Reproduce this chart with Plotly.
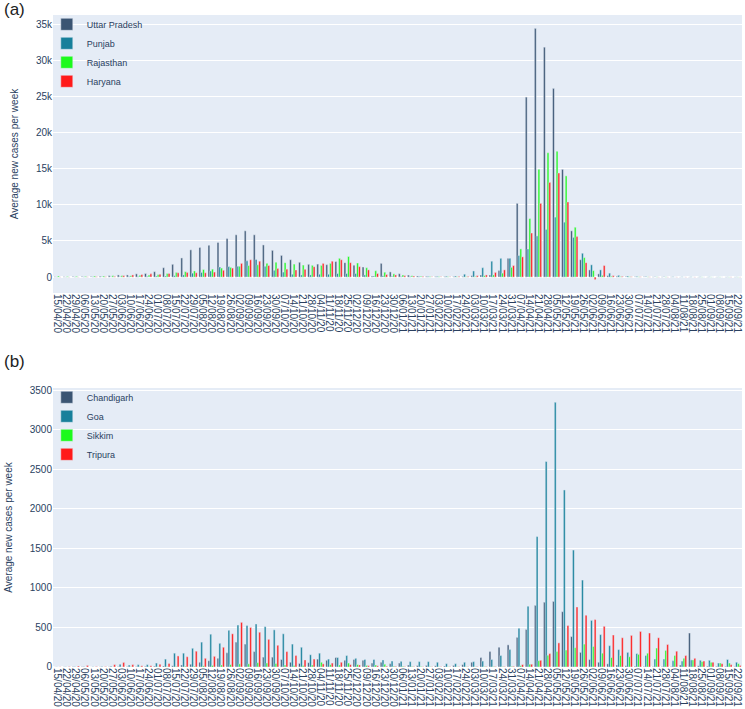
import plotly.graph_objects as go
import datetime as dt

start = dt.date(2020, 4, 15)
weeks = [(start + dt.timedelta(days=7 * i)).strftime("%d/%m/%y") for i in range(76)]

# ---- panel (a) values, in thousands ----
uttar_pradesh_k = [0.05, 0.05, 0.08, 0.1, 0.1, 0.12, 0.2, 0.3, 0.3, 0.45, 0.5, 0.75, 1.3, 1.77, 2.65, 3.77,
                   4.1, 4.4, 4.8, 5.35, 5.85, 6.4, 5.85, 4.45, 3.7, 3.0, 2.4, 2.05, 1.77, 1.8, 1.72, 2.15,
                   2.0, 1.65, 1.4, 0.15, 1.9, 0.72, 0.47, 0.28, 0.15, 0.1, 0.08, 0.07, 0.08, 0.1, 0.2, 0.3,
                   0.3, 0.9, 2.6, 10.2, 24.9, 34.4, 31.8, 26.1, 14.9, 6.4, 2.4, 1.0, 0.45, 0.2, 0.12, 0.08,
                   0.05, 0.04, 0.03, 0.03, 0.03, 0.02, 0.02, 0.02, 0.02, 0.02, 0.02, 0.02]
punjab_k = [0.03, 0.02, 0.03, 0.04, 0.05, 0.05, 0.05, 0.08, 0.1, 0.1, 0.12, 0.15, 0.15, 0.2, 0.3, 0.55,
            0.65, 0.85, 1.4, 1.45, 1.5, 2.25, 2.45, 1.5, 0.95, 0.7, 0.4, 0.3, 0.3, 0.4, 0.4, 0.5,
            0.5, 0.5, 0.3, 0.15, 0.2, 0.12, 0.1, 0.1, 0.1, 0.1, 0.1, 0.12, 0.15, 0.4, 0.85, 1.3,
            2.2, 2.6, 2.6, 3.0, 3.9, 5.7, 6.6, 8.3, 7.6, 5.5, 3.3, 1.7, 1.0, 0.55, 0.25, 0.15,
            0.1, 0.08, 0.06, 0.05, 0.05, 0.04, 0.04, 0.04, 0.04, 0.03, 0.03, 0.03]
rajasthan_k = [0.15, 0.08, 0.1, 0.1, 0.15, 0.15, 0.2, 0.2, 0.2, 0.25, 0.3, 0.35, 0.5, 0.65, 0.75, 0.85,
               1.05, 1.1, 1.25, 1.35, 1.5, 1.6, 1.7, 1.9, 2.05, 2.0, 1.8, 1.67, 1.63, 1.62, 1.9, 2.6,
               2.85, 1.95, 1.3, 0.88, 0.68, 0.45, 0.3, 0.2, 0.12, 0.08, 0.06, 0.05, 0.05, 0.06, 0.1, 0.2,
               0.3, 0.55, 1.35, 3.9, 8.1, 14.9, 17.2, 17.4, 14.0, 6.9, 2.7, 0.9, 0.25, 0.12, 0.08, 0.05,
               0.04, 0.03, 0.03, 0.03, 0.03, 0.02, 0.02, 0.02, 0.02, 0.02, 0.02, 0.02]
haryana_k = [0.02, 0.02, 0.02, 0.03, 0.05, 0.05, 0.1, 0.2, 0.3, 0.35, 0.45, 0.4, 0.5, 0.6, 0.65, 0.6,
             0.6, 0.7, 0.95, 1.25, 1.9, 2.4, 2.2, 1.6, 1.2, 1.1, 1.0, 1.07, 1.44, 1.9, 2.2, 2.4,
             2.0, 1.45, 1.0, 0.5, 0.35, 0.3, 0.2, 0.15, 0.1, 0.05, 0.05, 0.05, 0.1, 0.1, 0.2, 0.3,
             0.65, 1.0, 1.6, 2.8, 6.1, 10.2, 13.1, 14.4, 10.4, 5.6, 2.0, -0.35, 1.6, 0.2, 0.1, 0.05,
             0.04, 0.03, 0.02, 0.02, 0.02, 0.02, 0.02, 0.02, 0.02, 0.02, 0.02, 0.02]

# ---- panel (b) values ----
chandigarh = [0, 1, 2, 2, 1, 2, 3, 5, 5, 5, 8, 10, 12, 15, 25, 35, 60, 80, 110, 180, 315, 290, 195, 125,
              125, 95, 60, 45, 55, 100, 85, 120, 85, 95, 85, 50, 60, 42, 50, 25, 18, 20, 15, 12, 20, 30,
              60, 120, 195, 250, 280, 375, 475, 780, 820, 830, 700, 385, 185, 95, 60, 40, 25, 17, 8, 5,
              5, 5, 5, 25, 430, 15, 10, 8, 8, 5]
goa = [2, 3, 5, 5, 3, 5, 10, 35, 25, 30, 30, 50, 100, 175, 175, 237, 315, 415, 300, 465, 530, 525, 545, 510,
       470, 420, 290, 250, 155, 175, 100, 120, 145, 110, 95, 95, 90, 75, 72, 68, 68, 68, 60, 42, 42, 60,
       68, 75, 95, 145, 220, 490, 770, 1650, 2600, 3350, 2240, 1480, 1100, 590, 410, 270, 220, 185, 170,
       145, 100, 100, 80, 75, 90, 85, 85, 50, 95, 60]
sikkim = [0, 0, 0, 0, 0, 0, 1, 1, 2, 2, 2, 3, 5, 8, 10, 10, 15, 20, 25, 30, 40, 40, 55, 50,
          45, 25, 20, 20, 25, 60, 30, 25, 50, 30, 20, 25, 35, 10, 8, 5, 5, 5, 3, 3, 3, 3,
          3, 5, 5, 5, 8, 17, 35, 80, 150, 195, 215, 245, 290, 260, 175, 120, 145, 130, 160, 175,
          240, 210, 145, 110, 90, 68, 60, 50, 50, 42]
tripura = [2, 5, 13, 20, 5, 5, 30, 58, 30, 15, 17, 35, 45, 140, 130, 200, 110, 135, 250, 420, 565, 500, 440, 350,
           275, 195, 145, 90, 100, 40, 50, 60, 30, 25, 17, 15, 10, 8, 5, 5, 3, 3, 3, 3, 3, 3,
           5, 5, 5, 5, 8, 30, 35, 85, 170, 305, 525, 760, 655, 600, 515, 405, 370, 400, 450, 430,
           370, 285, 200, 145, 110, 75, 60, 42, 30, 20]

top_names = ["Uttar Pradesh", "Punjab", "Rajasthan", "Haryana"]
top_vals = [uttar_pradesh_k, punjab_k, rajasthan_k, haryana_k]
bot_names = ["Chandigarh", "Goa", "Sikkim", "Tripura"]
bot_vals = [chandigarh, goa, sikkim, tripura]
colors = ["#3b5573", "#17809b", "#1cfa1c", "#ff1a1a"]

fig = go.Figure()
for name, vals, c in zip(top_names, top_vals, colors):
    fig.add_trace(go.Bar(x=weeks, y=[v * 1000 for v in vals], name=name, marker_color=c,
                         xaxis="x", yaxis="y", legend="legend"))
for name, vals, c in zip(bot_names, bot_vals, colors):
    fig.add_trace(go.Bar(x=weeks, y=vals, name=name, marker_color=c,
                         xaxis="x2", yaxis="y2", legend="legend2"))

tickfont = dict(size=10, family="Arial", color="#2a3f5f")
xcommon = dict(type="category", tickangle=90, tickmode="linear", dtick=1, tickfont=tickfont,
               showgrid=False)
fig.update_layout(
    width=745, height=709,
    template="plotly",
    font=dict(family="Arial", color="#2a3f5f"),
    margin=dict(l=53, r=3, t=15, b=42),
    barmode="group",
    xaxis=dict(domain=[0, 1], anchor="y", **xcommon),
    yaxis=dict(domain=[0.5736, 1], anchor="x", range=[-2200, 36250], tickfont=tickfont,
               title=dict(text="Average new cases per week", font=dict(size=10, family="Arial"))),
    xaxis2=dict(domain=[0, 1], anchor="y2", **xcommon),
    yaxis2=dict(domain=[0, 0.4279], anchor="x2", range=[0, 3530], tickfont=tickfont,
                title=dict(text="Average new cases per week", font=dict(size=10, family="Arial"))),
    legend=dict(x=-0.009, y=1.008, xanchor="left", yanchor="top", bgcolor="rgba(0,0,0,0)",
                font=dict(size=9, family="Arial")),
    legend2=dict(x=-0.009, y=0.4359, xanchor="left", yanchor="top", bgcolor="rgba(0,0,0,0)",
                 font=dict(size=9, family="Arial")),
    annotations=[
        dict(text="(a)", x=-0.074, y=1.0084, xref="paper", yref="paper", xanchor="left",
             yanchor="middle", showarrow=False, font=dict(size=17, family="Arial", color="#222")),
        dict(text="(b)", x=-0.074, y=0.468, xref="paper", yref="paper", xanchor="left",
             yanchor="middle", showarrow=False, font=dict(size=17, family="Arial", color="#222")),
    ],
)

fig.write_html("out.html", config={"displayModeBar": False},
               post_script="document.body.style.margin='0px';")
